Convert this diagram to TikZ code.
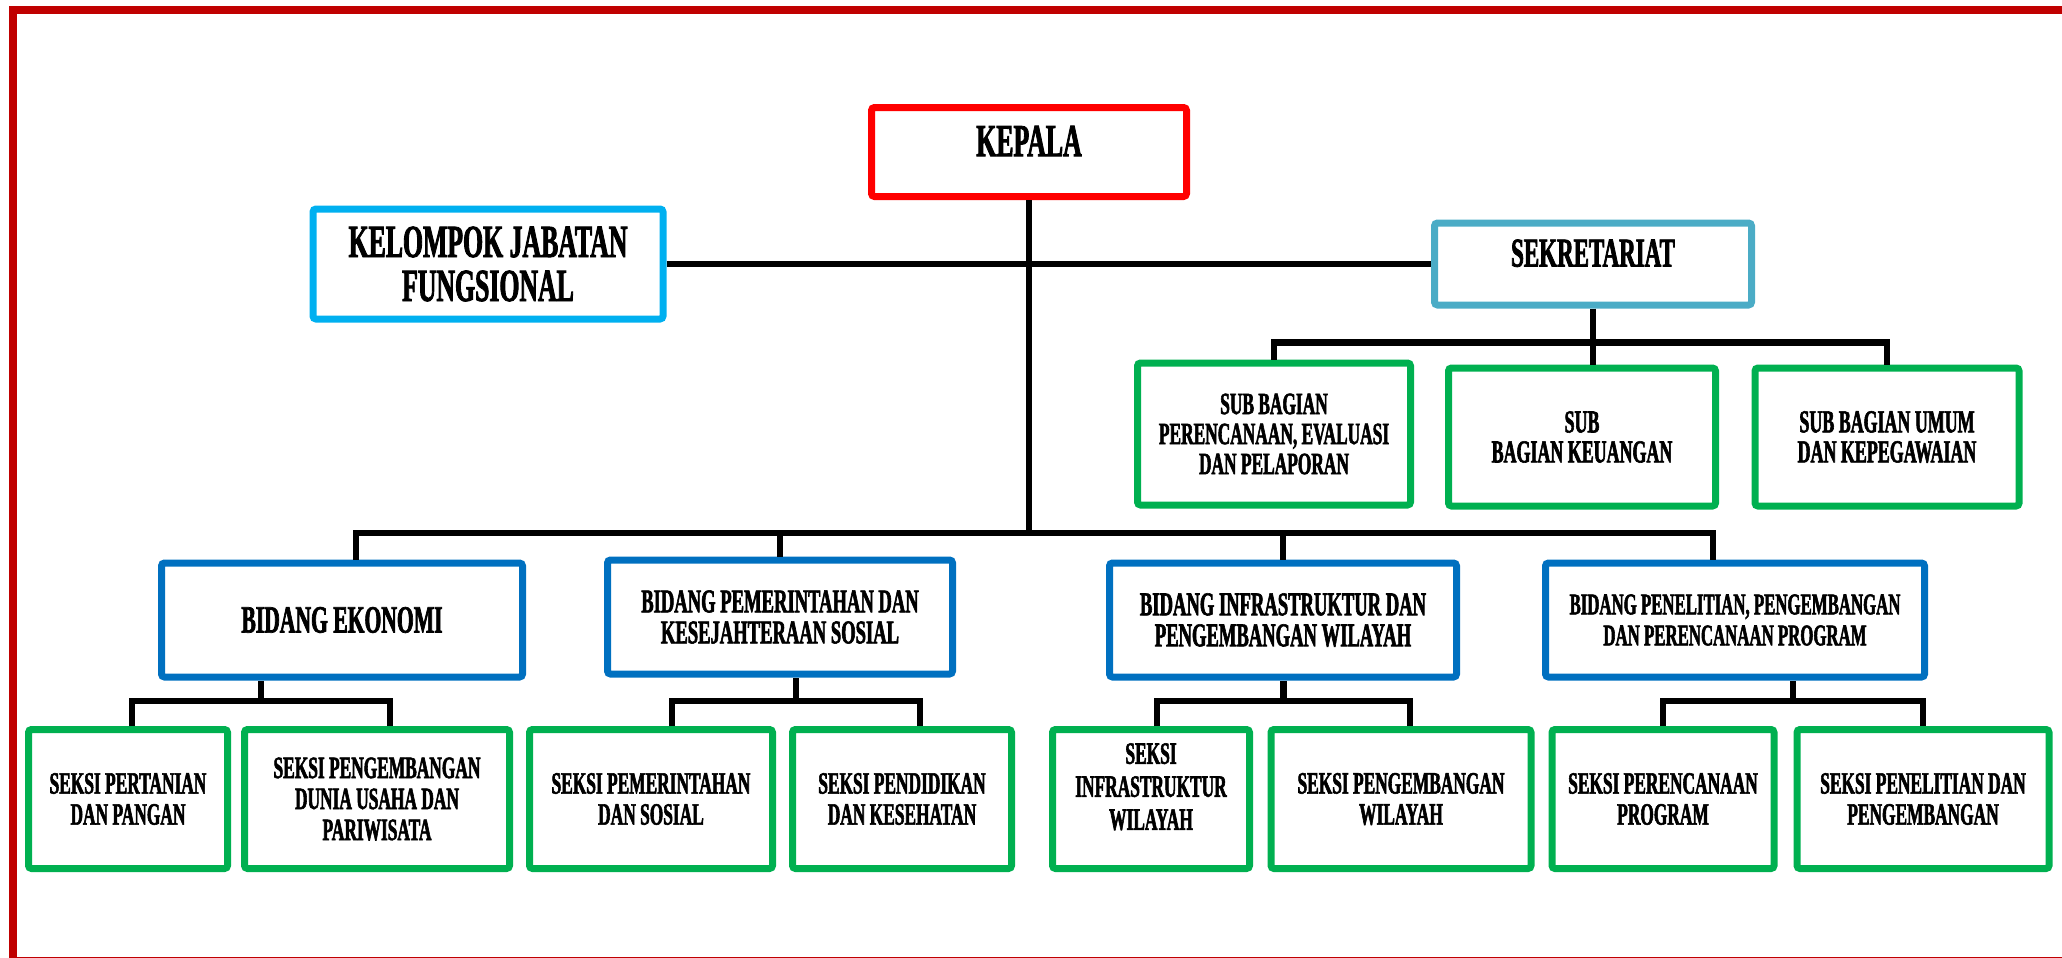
\documentclass[tikz,border=0pt]{standalone}
\usepackage{fontspec}
\setmainfont{Liberation Serif}[FakeStretch=0.56, BoldFeatures={FakeBold=1.8}]
\usetikzlibrary{calc}

\definecolor{framered}{HTML}{C00000}
\definecolor{headred}{HTML}{FF0000}
\definecolor{jfblue}{HTML}{00B0F0}
\definecolor{sekblue}{HTML}{4BACC6}
\definecolor{fieldblue}{HTML}{0070C0}
\definecolor{unitgreen}{HTML}{00B050}

\begin{document}
\begin{tikzpicture}[x=0.5pt, y=-0.5pt,
    box/.style={draw, line width=3.5pt, rounded corners=1.5pt, inner sep=0pt, align=center},
    head/.style={box, draw=headred, minimum width=157.5pt, minimum height=44.5pt, text depth=11pt, font=\bfseries\fontsize{23}{25}\selectfont},
    jf/.style={box, draw=jfblue, minimum width=175pt, minimum height=55pt, font=\bfseries\fontsize{23}{22}\selectfont},
    sek/.style={box, draw=sekblue, minimum width=158.5pt, minimum height=41pt, text depth=11pt, font=\bfseries\fontsize{20.5}{22}\selectfont},
    sub/.style={box, draw=unitgreen, minimum height=69pt, font=\bfseries\fontsize{16}{15}\selectfont},
    field/.style={box, draw=fieldblue, minimum height=57pt, font=\bfseries\fontsize{16.6}{15.5}\selectfont},
    seksi/.style={box, draw=unitgreen, minimum height=69.5pt, font=\bfseries\fontsize{15.5}{15.5}\selectfont},
    conn/.style={line width=3.2pt}]
    \useasboundingbox (0,0) rectangle (2062,958);
    \draw[framered, line width=4pt] (13,10) rectangle (2080,961);

    \node[head] (kepala) at (1029,152) {KEPALA};
    \node[jf] (jabatan) at (488,264) {KELOMPOK JABATAN\\FUNGSIONAL};
    \node[sek] (sekret) at (1593,264) {SEKRETARIAT};

    \node[sub, minimum width=136.5pt, minimum height=71pt, font=\bfseries\fontsize{15.5}{15}\selectfont] (sub1) at (1274,434) {SUB BAGIAN\\PERENCANAAN, EVALUASI\\DAN PELAPORAN};
    \node[sub, minimum width=133.5pt] (sub2) at (1582,437) {SUB\\BAGIAN KEUANGAN};
    \node[sub, minimum width=132pt] (sub3) at (1887,437) {SUB BAGIAN UMUM\\DAN KEPEGAWAIAN};

    \node[field, minimum width=180.5pt, font=\bfseries\fontsize{19.3}{19}\selectfont] (bid1) at (342,620) {BIDANG EKONOMI};
    \node[field, minimum width=172.5pt] (bid2) at (780,617) {BIDANG PEMERINTAHAN DAN\\KESEJAHTERAAN SOSIAL};
    \node[field, minimum width=173.5pt] (bid3) at (1283,620) {BIDANG INFRASTRUKTUR DAN\\PENGEMBANGAN WILAYAH};
    \node[field, minimum width=189.5pt, font=\bfseries\fontsize{15}{15.5}\selectfont] (bid4) at (1735,620) {BIDANG PENELITIAN, PENGEMBANGAN\\DAN PERENCANAAN PROGRAM};

    \node[seksi, minimum width=99.5pt] (seksi1) at (128,799) {SEKSI PERTANIAN\\DAN PANGAN};
    \node[seksi, minimum width=132.5pt] (seksi2) at (377,799) {SEKSI PENGEMBANGAN\\DUNIA USAHA DAN\\PARIWISATA};
    \node[seksi, minimum width=121.5pt] (seksi3) at (651,799) {SEKSI PEMERINTAHAN\\DAN SOSIAL};
    \node[seksi, minimum width=109.5pt] (seksi4) at (902,799) {SEKSI PENDIDIKAN\\DAN KESEHATAN};
    \node[seksi, minimum width=98.5pt, font=\bfseries\fontsize{15.5}{16.5}\selectfont] (seksi5) at (1151,799) {SEKSI\\INFRASTRUKTUR\\WILAYAH\\[-4pt]};
    \node[seksi, minimum width=130pt] (seksi6) at (1401,799) {SEKSI PENGEMBANGAN\\WILAYAH};
    \node[seksi, minimum width=111pt] (seksi7) at (1663,799) {SEKSI PERENCANAAN\\PROGRAM};
    \node[seksi, minimum width=126pt] (seksi8) at (1923,799) {SEKSI PENELITIAN DAN\\PENGEMBANGAN};

    % kepala, jabatan fungsional, sekretariat
    \coordinate (bus) at (1029,533);
    \draw[conn] (kepala) -- (bus);
    \draw[conn] (jabatan) -- (sekret);
    \draw[conn] (sekret.south) -- ++(0,34) coordinate (sj);
    \draw[conn] (sub1.north) |- (sj) -| (sub3.north);
    \draw[conn] (sj) -- (sj |- sub2.north);

    % bidang
    \draw[conn] ([xshift=7pt]bid1.north) |- (bus) -| ([xshift=-11pt]bid4.north);
    \draw[conn] (bus -| bid2.north) -- (bid2.north);
    \draw[conn] (bus -| bid3.north) -- (bid3.north);

    % seksi
    \coordinate (j1) at ($([xshift=2pt]seksi1.north)!.5!([xshift=6.5pt]seksi2.north)+(0,-25)$);
    \draw[conn] ([xshift=2pt]seksi1.north) |- (j1) -| ([xshift=6.5pt]seksi2.north);
    \draw[conn] (j1) -- (j1 |- bid1.south);

    \coordinate (j2) at ($([xshift=10.5pt]seksi3.north)!.5!([xshift=9pt]seksi4.north)+(0,-25)$);
    \draw[conn] ([xshift=10.5pt]seksi3.north) |- (j2) -| ([xshift=9pt]seksi4.north);
    \draw[conn] (j2) -- (j2 |- bid2.south);

    \coordinate (j3) at ($([xshift=3pt]seksi5.north)!.5!([xshift=4.5pt]seksi6.north)+(0,-25)$);
    \draw[conn] ([xshift=3pt]seksi5.north) |- (j3) -| ([xshift=4.5pt]seksi6.north);
    \draw[conn] (j3) -- (j3 |- bid3.south);

    \coordinate (j4) at ($(seksi7.north)!.5!(seksi8.north)+(0,-25)$);
    \draw[conn] (seksi7.north) |- (j4) -| (seksi8.north);
    \draw[conn] (j4) -- (j4 |- bid4.south);
\end{tikzpicture}
\end{document}
